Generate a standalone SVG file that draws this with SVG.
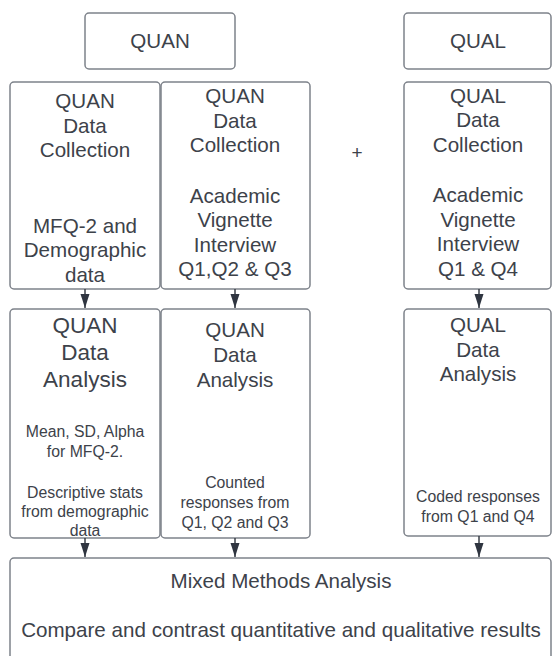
<svg xmlns="http://www.w3.org/2000/svg" width="552" height="656" viewBox="0 0 552 656">
  <style>
    .box { fill: #ffffff; stroke: #7d828a; stroke-width: 1.5; }
    .t { font-family: "Liberation Sans", Arial, sans-serif; fill: #3d424a; text-anchor: middle; }
    .lg { font-size: 20.6px; }
    .xl { font-size: 22.5px; }
    .sm { font-size: 15.8px; }
    .plus { font-size: 19px; }
    .conn { stroke: #3a3f47; stroke-width: 1.5; fill: none; marker-end: url(#arrow); }
  </style>
  <defs>
    <!-- filled triangular head, tip at the end of the line -->
    <marker id="arrow" viewBox="0 0 14 10" refX="14" refY="5" markerWidth="14" markerHeight="10" markerUnits="userSpaceOnUse" orient="auto">
      <path d="M0,0.5 L14,5 L0,9.5 Z" fill="#2f3540"/>
    </marker>
  </defs>
  <rect width="552" height="656" fill="#ffffff"/>

  <!-- header boxes -->
  <g id="quan-header">
    <rect class="box" x="85" y="13" width="150" height="56" rx="4"/>
    <text class="t lg" x="160" y="48">QUAN</text>
  </g>
  <g id="qual-header">
    <rect class="box" x="404" y="13" width="147" height="56" rx="4"/>
    <text class="t lg" x="478" y="48">QUAL</text>
  </g>

  <!-- data collection boxes -->
  <g id="quan-collection-survey">
    <rect class="box" x="10" y="82" width="150" height="207" rx="4"/>
    <text class="t lg" x="85" y="108">QUAN</text>
    <text class="t lg" x="85" y="133">Data</text>
    <text class="t lg" x="85" y="157">Collection</text>
    <text class="t lg" x="85" y="233">MFQ-2 and</text>
    <text class="t lg" x="85" y="257">Demographic</text>
    <text class="t lg" x="85" y="282">data</text>
  </g>
  <g id="quan-collection-vignette">
    <rect class="box" x="161" y="82" width="149" height="207" rx="4"/>
    <text class="t lg" x="235" y="103">QUAN</text>
    <text class="t lg" x="235" y="128">Data</text>
    <text class="t lg" x="235" y="152">Collection</text>
    <text class="t lg" x="235" y="203">Academic</text>
    <text class="t lg" x="235" y="227">Vignette</text>
    <text class="t lg" x="235" y="252">Interview</text>
    <text class="t lg" x="235" y="276">Q1,Q2 &amp; Q3</text>
  </g>
  <g id="plus">
    <text class="t plus" x="357" y="159">+</text>
  </g>
  <g id="qual-collection">
    <rect class="box" x="404" y="82" width="147" height="207" rx="4"/>
    <text class="t lg" x="478" y="103">QUAL</text>
    <text class="t lg" x="478" y="127">Data</text>
    <text class="t lg" x="478" y="152">Collection</text>
    <text class="t lg" x="478" y="202">Academic</text>
    <text class="t lg" x="478" y="227">Vignette</text>
    <text class="t lg" x="478" y="251">Interview</text>
    <text class="t lg" x="478" y="276">Q1 &amp; Q4</text>
  </g>

  <!-- data analysis boxes -->
  <g id="quan-analysis-survey">
    <rect class="box" x="10" y="309" width="150" height="229" rx="4"/>
    <text class="t xl" x="85" y="333">QUAN</text>
    <text class="t xl" x="85" y="360">Data</text>
    <text class="t xl" x="85" y="387">Analysis</text>
    <text class="t sm" x="85" y="437">Mean, SD, Alpha</text>
    <text class="t sm" x="85" y="457">for MFQ-2.</text>
    <text class="t sm" x="85" y="498">Descriptive stats</text>
    <text class="t sm" x="85" y="517">from demographic</text>
    <text class="t sm" x="85" y="536">data</text>
  </g>
  <g id="quan-analysis-vignette">
    <rect class="box" x="161" y="309" width="149" height="229" rx="4"/>
    <text class="t lg" x="235" y="337">QUAN</text>
    <text class="t lg" x="235" y="362">Data</text>
    <text class="t lg" x="235" y="387">Analysis</text>
    <text class="t sm" x="235" y="488">Counted</text>
    <text class="t sm" x="235" y="508">responses from</text>
    <text class="t sm" x="235" y="528">Q1, Q2 and Q3</text>
  </g>
  <g id="qual-analysis">
    <rect class="box" x="404" y="309" width="147" height="227" rx="4"/>
    <text class="t lg" x="478" y="332">QUAL</text>
    <text class="t lg" x="478" y="357">Data</text>
    <text class="t lg" x="478" y="381">Analysis</text>
    <text class="t sm" x="478" y="502">Coded responses</text>
    <text class="t sm" x="478" y="522">from Q1 and Q4</text>
  </g>

  <!-- mixed methods box, running past the lower edge -->
  <g id="mixed-methods">
    <rect class="box" x="10" y="558" width="541" height="120" rx="4"/>
    <text class="t lg" x="281" y="588">Mixed Methods Analysis</text>
    <text class="t lg" x="281" y="637">Compare and contrast quantitative and qualitative results</text>
  </g>

  <!-- connectors -->
  <g id="connectors">
    <line class="conn" x1="85" y1="289" x2="85" y2="308"/>
    <line class="conn" x1="235" y1="289" x2="235" y2="308"/>
    <line class="conn" x1="479" y1="289" x2="479" y2="308"/>
    <line class="conn" x1="85" y1="538" x2="85" y2="557"/>
    <line class="conn" x1="235" y1="538" x2="235" y2="557"/>
    <line class="conn" x1="479" y1="536" x2="479" y2="557"/>
  </g>
</svg>
